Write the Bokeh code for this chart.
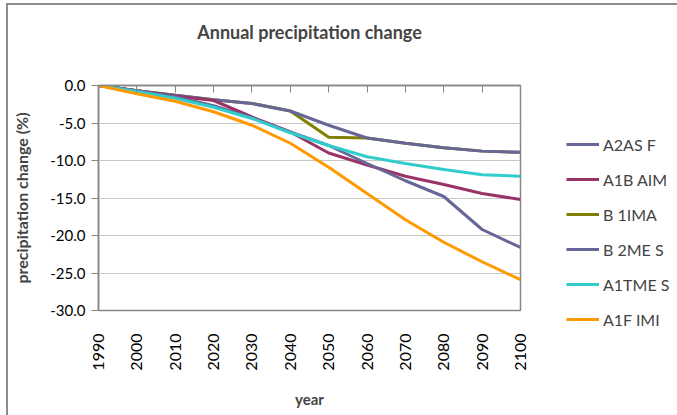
from bokeh.plotting import figure
from bokeh.layouts import row, column
from bokeh.models import Legend, LegendItem, LinearAxis, Range1d, FixedTicker, ColumnDataSource, CustomJSTickFormatter
from bokeh.embed import file_html
from bokeh.resources import INLINE
import math

years = [1990, 2000, 2010, 2020, 2030, 2040, 2050, 2060, 2070, 2080, 2090, 2100]
A2ASF = [0.0, -0.7, -1.3, -1.9, -2.4, -3.4, -5.3, -7.0, -7.7, -8.3, -8.75, -8.9]
A1BAIM = [0.0, -0.7, -1.4, -2.0, -4.2, -6.2, -9.0, -10.6, -12.1, -13.2, -14.4, -15.2]
B1IMA = [0.0, -0.7, -1.3, -1.9, -2.4, -3.4, -6.9, -7.0, -7.7, -8.3, -8.75, -8.9]
B2MES = [0.0, -0.7, -1.5, -2.7, -4.3, -6.2, -8.0, -10.4, -12.7, -14.8, -19.2, -21.6]
A1TMES = [0.0, -0.8, -1.7, -2.9, -4.4, -6.3, -8.0, -9.5, -10.4, -11.2, -11.9, -12.1]
A1FIMI = [0.0, -1.1, -2.1, -3.5, -5.3, -7.7, -10.9, -14.4, -17.9, -20.9, -23.5, -25.9]

series_names = ["A2AS F", "A1B AIM", "B 1IMA", "B 2ME S", "A1TME S", "A1F IMI"]
series_values = [A2ASF, A1BAIM, B1IMA, B2MES, A1TMES, A1FIMI]
series_colors = ["#666699", "#993366", "#808000", "#666699", "#33CCCC", "#FF9900"]
y_ticks = [0, -5, -10, -15, -20, -25, -30]

FONT = "Lato"
GREY = "#868686"

p = figure(width=522, height=410, output_backend="svg", toolbar_location=None,
           x_range=Range1d(1990, 2100), y_range=Range1d(-30, 0),
           min_border_left=90, min_border_right=10, min_border_top=0, min_border_bottom=105,
           x_axis_location=None, y_axis_location=None)

p.title.text = "Annual precipitation change"
p.title.align = "center"
p.title.offset = 33
p.title.text_font = FONT
p.title.text_font_size = "18px"
p.title.text_font_style = "bold"
p.title.standoff = 26

p.outline_line_color = GREY
p.outline_line_width = 1.5
p.xgrid.visible = False

# y axis
yax = LinearAxis(ticker=FixedTicker(ticks=y_ticks),
                 formatter=CustomJSTickFormatter(code="return tick.toFixed(1);"))
yax.axis_label = "precipitation change (%)"
yax.axis_label_text_font = FONT
yax.axis_label_text_font_style = "bold"
yax.axis_label_text_font_size = "16px"
yax.axis_label_standoff = 16
yax.major_label_text_font = FONT
yax.major_label_text_font_size = "15px"
yax.major_label_text_color = "black"
yax.major_label_standoff = 6
yax.axis_line_color = GREY
yax.axis_line_width = 1.5
yax.major_tick_line_color = GREY
yax.major_tick_out = 7
yax.major_tick_in = 0
yax.minor_tick_line_color = None
p.add_layout(yax, "left")
p.ygrid.ticker = FixedTicker(ticks=y_ticks)
p.ygrid.grid_line_color = "#C8C8C8"
p.ygrid.grid_line_width = 1.2

# x axis labels at bottom
xax = LinearAxis(ticker=FixedTicker(ticks=years))
xax.axis_label = "year"
xax.axis_label_text_font = FONT
xax.axis_label_text_font_style = "bold"
xax.axis_label_text_font_size = "15px"
xax.axis_label_standoff = 16
xax.major_label_orientation = math.pi / 2
xax.major_label_text_font = FONT
xax.major_label_text_font_size = "16px"
xax.major_label_text_color = "black"
xax.major_label_standoff = 17
xax.axis_line_color = None
xax.major_tick_line_color = None
xax.minor_tick_line_color = None
p.add_layout(xax, "below")

# x axis line with ticks at top (y = 0)
tax = LinearAxis(ticker=FixedTicker(ticks=years),
                 formatter=CustomJSTickFormatter(code="return '';"))
tax.major_label_standoff = 0
tax.axis_line_color = GREY
tax.axis_line_width = 1.5
tax.major_tick_line_color = GREY
tax.major_tick_in = 7
tax.major_tick_out = 0
tax.minor_tick_line_color = None
p.add_layout(tax, "above")

# invisible spacer between the plot area and the title
spacer = LinearAxis(ticker=FixedTicker(ticks=years),
                    formatter=CustomJSTickFormatter(code="return '';"))
spacer.axis_line_color = None
spacer.major_tick_in = 0
spacer.major_tick_out = 30
spacer.major_tick_line_alpha = 0
spacer.major_label_standoff = 0
spacer.minor_tick_line_color = None
p.add_layout(spacer, "above")

draw_order = [2, 0, 1, 3, 4, 5]
for i in draw_order:
    src = ColumnDataSource(dict(x=years, y=series_values[i]))
    p.line("x", "y", source=src, line_color=series_colors[i], line_width=3)

# legend panel (separate figure; its lines lie outside its view)
lg = figure(width=147, height=410, output_backend="svg", toolbar_location=None,
            x_range=Range1d(0, 1), y_range=Range1d(0, 1),
            min_border=0, x_axis_location=None, y_axis_location=None)
lg.outline_line_color = None
lg.grid.visible = False
items = []
for i in range(6):
    src = ColumnDataSource(dict(x=years, y=series_values[i]))
    r = lg.line("x", "y", source=src, line_color=series_colors[i], line_width=3)
    items.append(LegendItem(label=series_names[i], renderers=[r]))
legend = Legend(items=items, location=(36, 86), orientation="vertical",
                label_text_font=FONT, label_text_font_size="16px",
                glyph_width=33, glyph_height=20, label_height=20, spacing=15,
                padding=0, margin=0, label_standoff=4,
                border_line_color=None, background_fill_alpha=0)
lg.add_layout(legend, "center")

layout = row(p, column(lg))
layout.styles = {"margin-left": "6px", "margin-top": "3px",
                 "border-left": "2px solid #8c8c8c", "border-top": "2px solid #8c8c8c"}

open("out.html", "w").write(file_html(layout, INLINE))
